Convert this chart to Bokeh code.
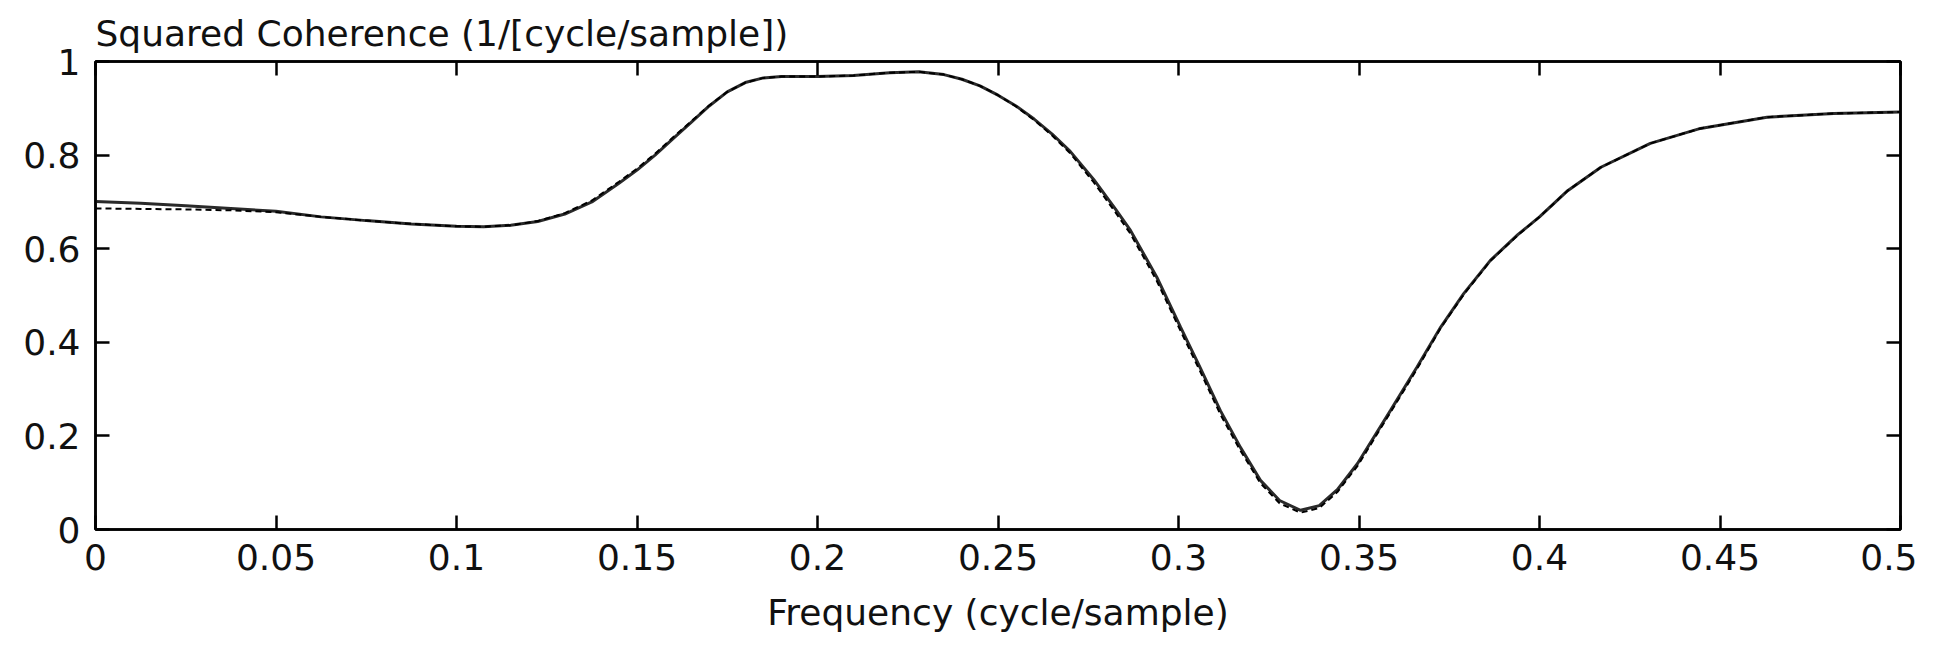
from bokeh.plotting import figure
from bokeh.models import LinearAxis, FixedTicker, Range1d, CustomJSTickFormatter
from bokeh.embed import file_html
from bokeh.resources import INLINE

# ---- data ----
freq = [0.000, 0.0125, 0.025, 0.0375, 0.050, 0.0625, 0.075, 0.0875, 0.100, 0.1075,
        0.115, 0.1225, 0.130, 0.1375, 0.145, 0.150, 0.155, 0.160, 0.165, 0.170,
        0.175, 0.180, 0.185, 0.190, 0.200, 0.210, 0.220, 0.228, 0.235, 0.240,
        0.245, 0.250, 0.255, 0.260, 0.265, 0.270, 0.2765, 0.2825, 0.2867, 0.294,
        0.3006, 0.306, 0.3116, 0.3172, 0.3227, 0.328, 0.3338, 0.339, 0.344, 0.3496,
        0.3587, 0.366, 0.3726, 0.379, 0.3864, 0.394, 0.400, 0.4078, 0.417, 0.4307,
        0.4446, 0.463, 0.4815, 0.500]

coh_solid = [0.701, 0.697, 0.692, 0.686, 0.680, 0.668, 0.660, 0.653, 0.648, 0.647,
             0.650, 0.658, 0.674, 0.700, 0.740, 0.768, 0.800, 0.835, 0.870, 0.905,
             0.935, 0.955, 0.965, 0.968, 0.968, 0.970, 0.976, 0.978, 0.972, 0.962,
             0.948, 0.928, 0.905, 0.877, 0.845, 0.808, 0.748, 0.685, 0.639, 0.539,
             0.432, 0.346, 0.254, 0.175, 0.105, 0.062, 0.041, 0.051, 0.085, 0.141,
             0.254, 0.346, 0.432, 0.504, 0.575, 0.630, 0.668, 0.724, 0.774, 0.825,
             0.857, 0.881, 0.889, 0.892]

coh_dashed = [0.686, 0.685, 0.684, 0.682, 0.678, 0.668, 0.660, 0.653, 0.648, 0.647,
              0.650, 0.659, 0.676, 0.703, 0.743, 0.771, 0.803, 0.838, 0.872, 0.906,
              0.935, 0.955, 0.965, 0.968, 0.968, 0.970, 0.976, 0.978, 0.972, 0.962,
              0.948, 0.928, 0.904, 0.875, 0.842, 0.804, 0.742, 0.678, 0.632, 0.531,
              0.424, 0.338, 0.246, 0.168, 0.099, 0.056, 0.036, 0.046, 0.080, 0.136,
              0.250, 0.342, 0.430, 0.502, 0.574, 0.629, 0.668, 0.724, 0.774, 0.825,
              0.857, 0.881, 0.889, 0.892]

x_ticks = [0, 0.05, 0.1, 0.15, 0.2, 0.25, 0.3, 0.35, 0.4, 0.45, 0.5]
x_tick_labels = ["0", "0.05", "0.1", "0.15", "0.2", "0.25", "0.3", "0.35", "0.4", "0.45", "0.5"]
y_ticks = [0, 0.2, 0.4, 0.6, 0.8, 1.0]
y_tick_labels = ["0", "0.2", "0.4", "0.6", "0.8", "1"]

title_text = "Squared Coherence (1/[cycle/sample])"
x_label = "Frequency (cycle/sample)"

FONT = "DejaVu Sans"
FSIZE = "36px"
TXT = "#111111"

p = figure(width=1917, height=636, output_backend="svg", toolbar_location=None,
           x_range=Range1d(0, 0.5), y_range=Range1d(0, 1),
           min_border_left=95, min_border_right=17, min_border_top=61, min_border_bottom=107)

p.xgrid.visible = False
p.ygrid.visible = False
p.background_fill_color = "white"
p.border_fill_color = "white"
p.outline_line_color = "black"
p.outline_line_width = 2.5

p.title.text = title_text
p.title.align = "left"
p.title.offset = 0
p.title.standoff = 15
p.title.text_font = FONT
p.title.text_font_size = FSIZE
p.title.text_font_style = "normal"
p.title.text_color = TXT

p.line(freq, coh_solid, line_color="#2a2a2a", line_width=3)
p.line(freq, coh_dashed, line_color="black", line_width=2, line_dash="6 4")

xa = p.xaxis[0]
xa.ticker = FixedTicker(ticks=x_ticks)
xa.major_label_overrides = {t: l for t, l in zip(x_ticks, x_tick_labels)}
xa.axis_label = x_label
ya = p.yaxis[0]
ya.ticker = FixedTicker(ticks=y_ticks)
ya.major_label_overrides = {t: l for t, l in zip(y_ticks, y_tick_labels)}

for ax in (xa, ya):
    ax.major_tick_in = 14
    ax.major_tick_out = 0
    ax.minor_tick_in = 0
    ax.minor_tick_out = 0
    ax.axis_line_width = 2.5
    ax.major_tick_line_width = 2.5
    ax.major_label_text_font = FONT
    ax.major_label_text_font_size = FSIZE
    ax.major_label_text_color = TXT
    ax.axis_label_text_font = FONT
    ax.axis_label_text_font_size = FSIZE
    ax.axis_label_text_font_style = "normal"
    ax.axis_label_text_color = TXT

xa.major_label_standoff = 14
xa.axis_label_standoff = 19
ya.major_label_standoff = 15

blank = CustomJSTickFormatter(code="return ''")
top = LinearAxis(ticker=FixedTicker(ticks=x_ticks), formatter=blank,
                 major_tick_in=14, major_tick_out=0, minor_tick_in=0, minor_tick_out=0,
                 axis_line_width=2.5, major_tick_line_width=2.5, major_label_standoff=0,
                 major_label_text_font_size="1px")
right = LinearAxis(ticker=FixedTicker(ticks=y_ticks), formatter=blank,
                   major_tick_in=14, major_tick_out=0, minor_tick_in=0, minor_tick_out=0,
                   axis_line_width=2.5, major_tick_line_width=2.5, major_label_standoff=0,
                   major_label_text_font_size="1px")
p.add_layout(top, "above")
p.add_layout(right, "right")

open("out.html", "w").write(file_html(p, INLINE))
